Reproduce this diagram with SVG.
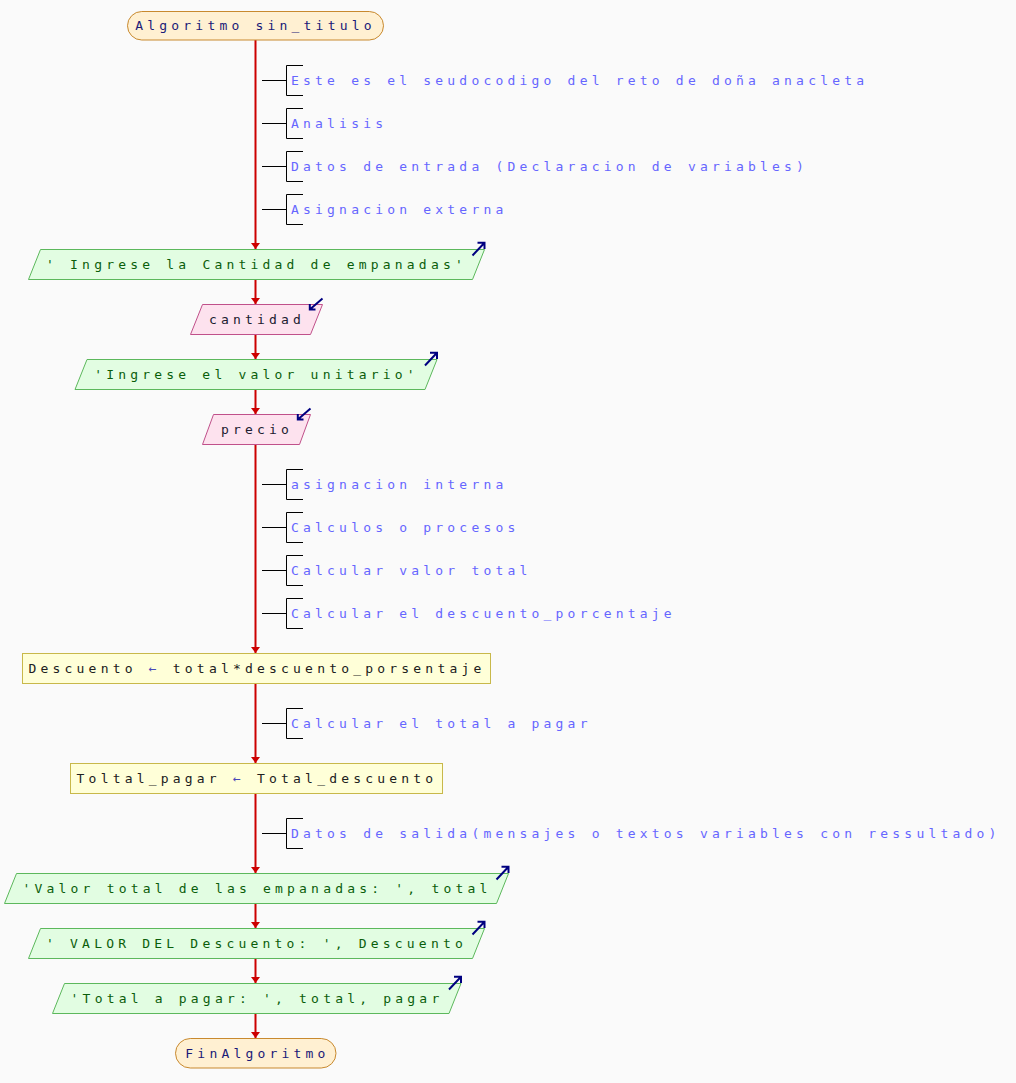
<svg xmlns="http://www.w3.org/2000/svg" width="1016" height="1083" viewBox="0 0 1016 1083">
<defs>
<style>
text{font-family:"DejaVu Sans Mono","Liberation Mono",monospace;font-size:13px;letter-spacing:4.2px}
.term{fill:#fff0d2;stroke:#c8892e;stroke-width:1}
.out{fill:#e2fde2;stroke:#5cb85c;stroke-width:1}
.in{fill:#fde2ee;stroke:#c0508a;stroke-width:1}
.proc{fill:#ffffd8;stroke:#c8b84a;stroke-width:1}
.tt{fill:#1a1a78}
.to{fill:#0b5e0b}
.ti{fill:#202030}
.tp{fill:#202020}
.arr{fill:#4848b8}
.tc{fill:#6666ff}
.conn{stroke:#cc0000;stroke-width:2;fill:none}
.br{stroke:#000;stroke-width:1;fill:none}
.ico{stroke:#000080;stroke-width:2;fill:none}
</style>
<marker id="ah" markerUnits="userSpaceOnUse" markerWidth="7" markerHeight="10" refX="6" refY="4.5" orient="auto">
<path d="M0,0 L6,4.5 L0,9 z" fill="#cc0000"/>
</marker>
</defs>
<rect width="1016" height="1083" fill="#fafafa"/>

<g id="connectors">
<path class="conn" d="M255.5,40 V249" marker-end="url(#ah)"/>
<path class="conn" d="M255.5,279.5 V304" marker-end="url(#ah)"/>
<path class="conn" d="M255.5,334.5 V359" marker-end="url(#ah)"/>
<path class="conn" d="M255.5,389.5 V414" marker-end="url(#ah)"/>
<path class="conn" d="M255.5,444.5 V653" marker-end="url(#ah)"/>
<path class="conn" d="M255.5,683.5 V763" marker-end="url(#ah)"/>
<path class="conn" d="M255.5,793.5 V873" marker-end="url(#ah)"/>
<path class="conn" d="M255.5,903.5 V928" marker-end="url(#ah)"/>
<path class="conn" d="M255.5,958.5 V983" marker-end="url(#ah)"/>
<path class="conn" d="M255.5,1013.5 V1038" marker-end="url(#ah)"/>
</g>

<g id="start">
<rect class="term" x="127.5" y="11.5" width="256" height="28.5" rx="14.25"/>
<text class="tt" x="255.5" y="30" text-anchor="middle">Algoritmo sin_titulo</text>
</g>

<g id="c1">
<path class="br" d="M262,80.5 H286 M303,65.5 H286.5 V95.5 H303"/>
<text class="tc" x="291" y="84.7">Este es el seudocodigo del reto de doña anacleta</text>
</g>
<g id="c2">
<path class="br" d="M262,123.5 H286 M303,108.5 H286.5 V138.5 H303"/>
<text class="tc" x="291" y="127.7">Analisis</text>
</g>
<g id="c3">
<path class="br" d="M262,166.5 H286 M303,151.5 H286.5 V181.5 H303"/>
<text class="tc" x="291" y="170.7">Datos de entrada (Declaracion de variables)</text>
</g>
<g id="c4">
<path class="br" d="M262,209.5 H286 M303,194.5 H286.5 V224.5 H303"/>
<text class="tc" x="291" y="213.7">Asignacion externa</text>
</g>

<g id="o1">
<polygon class="out" points="40.5,249.5 484.5,249.5 472.5,279.5 28.5,279.5"/>
<text class="to" x="256.5" y="269.2" text-anchor="middle">' Ingrese la Cantidad de empanadas'</text>
<path class="ico" d="M472.5,255.5 L484.5,242.7 M477.5,242.7 H484.5 V249"/>
</g>

<g id="i1">
<polygon class="in" points="202.5,304.5 322.5,304.5 310.5,334.5 190.5,334.5"/>
<text class="ti" x="257" y="324.2" text-anchor="middle">cantidad</text>
<path class="ico" d="M322.5,298.5 L309.8,309.5 M309.8,304 V309.5 H315.5"/>
</g>

<g id="o2">
<polygon class="out" points="87,359.5 437,359.5 425,389.5 75,389.5"/>
<text class="to" x="256.5" y="379.2" text-anchor="middle">'Ingrese el valor unitario'</text>
<path class="ico" d="M425,365.5 L437,352.7 M430,352.7 H437 V359"/>
</g>

<g id="i2">
<polygon class="in" points="213.5,414.5 310.5,414.5 299.5,444.5 202.5,444.5"/>
<text class="ti" x="257" y="434.2" text-anchor="middle">precio</text>
<path class="ico" d="M310.5,408.5 L297.8,419.5 M297.8,414 V419.5 H303.5"/>
</g>

<g id="c5">
<path class="br" d="M262,484.5 H286 M303,469.5 H286.5 V499.5 H303"/>
<text class="tc" x="291" y="488.7">asignacion interna</text>
</g>
<g id="c6">
<path class="br" d="M262,527.5 H286 M303,512.5 H286.5 V542.5 H303"/>
<text class="tc" x="291" y="531.7">Calculos o procesos</text>
</g>
<g id="c7">
<path class="br" d="M262,570.5 H286 M303,555.5 H286.5 V585.5 H303"/>
<text class="tc" x="291" y="574.7">Calcular valor total</text>
</g>
<g id="c8">
<path class="br" d="M262,613.5 H286 M303,598.5 H286.5 V628.5 H303"/>
<text class="tc" x="291" y="617.7">Calcular el descuento_porcentaje</text>
</g>

<g id="p1">
<rect class="proc" x="22.5" y="653.5" width="468" height="30"/>
<text class="tp" x="257" y="673.2" text-anchor="middle">Descuento <tspan class="arr">←</tspan> total*descuento_porsentaje</text>
</g>

<g id="c9">
<path class="br" d="M262,723.5 H286 M303,708.5 H286.5 V738.5 H303"/>
<text class="tc" x="291" y="727.7">Calcular el total a pagar</text>
</g>

<g id="p2">
<rect class="proc" x="70.5" y="763.5" width="372" height="30"/>
<text class="tp" x="257" y="783.2" text-anchor="middle">Toltal_pagar <tspan class="arr">←</tspan> Total_descuento</text>
</g>

<g id="c10">
<path class="br" d="M262,833.5 H286 M303,818.5 H286.5 V848.5 H303"/>
<text class="tc" x="291" y="837.7">Datos de salida(mensajes o textos variables con ressultado)</text>
</g>

<g id="o3">
<polygon class="out" points="16.5,873.5 508.5,873.5 496.5,903.5 4.5,903.5"/>
<text class="to" x="257" y="893.2" text-anchor="middle">'Valor total de las empanadas: ', total</text>
<path class="ico" d="M496.5,879.5 L508.5,866.7 M501.5,866.7 H508.5 V873"/>
</g>

<g id="o4">
<polygon class="out" points="40.5,928.5 484.5,928.5 472.5,958.5 28.5,958.5"/>
<text class="to" x="256.5" y="948.2" text-anchor="middle">' VALOR DEL Descuento: ', Descuento</text>
<path class="ico" d="M472.5,934.5 L484.5,921.7 M477.5,921.7 H484.5 V928"/>
</g>

<g id="o5">
<polygon class="out" points="64.5,983.5 461,983.5 449,1013.5 52.5,1013.5"/>
<text class="to" x="257" y="1003.2" text-anchor="middle">'Total a pagar: ', total, pagar</text>
<path class="ico" d="M449,989.5 L461,976.7 M454,976.7 H461 V983"/>
</g>

<g id="end">
<rect class="term" x="175.5" y="1038.5" width="160.5" height="29.5" rx="14.75"/>
<text class="tt" x="257.5" y="1058" text-anchor="middle">FinAlgoritmo</text>
</g>
</svg>
